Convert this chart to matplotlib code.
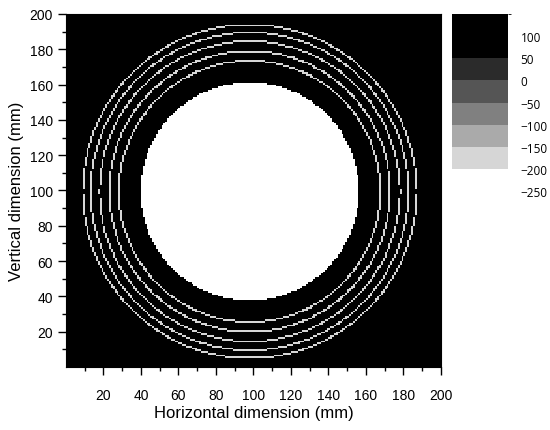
import matplotlib
matplotlib.use('Agg')
import matplotlib.pyplot as plt
import numpy as np
from matplotlib.colors import ListedColormap, BoundaryNorm

plt.rcParams['font.family'] = ['Liberation Sans', 'DejaVu Sans']

# contour levels and their greys (Origin style colour scale)
levels = [-250, -200, -150, -100, -50, 0, 50, 100, 150]
level_colors = ['#ffffff', '#d6d6d6', '#aaaaaa', '#808080', '#555555', '#2b2b2b', '#000000', '#000000']
cbar_ticks = [-250, -200, -150, -100, -50, 0, 50, 100]

# 200 x 200 mm grid, 1 mm cells
grid_x = np.arange(0.5, 200, 1.0)
grid_y = np.arange(0.5, 200, 1.0)
center_x, center_y = 98.0, 99.5
hole_radius = 61.8
ring_radius = [74.0, 79.5, 85.0, 90.0, 94.5]
ring_width = 0.5
x_stretch = 1.062   # source cells are a bit wider than tall
value_background = 120
value_hole = -230
value_ring = -180

X, Y = np.meshgrid(grid_x, grid_y)
r = np.sqrt(((X - center_x) * x_stretch) ** 2 + (Y - center_y) ** 2)
Z = np.full(X.shape, float(value_background))
Z[r < hole_radius] = value_hole
for R in ring_radius:
    Z[np.abs(r - R) < ring_width] = value_ring

cmap = ListedColormap(level_colors)
norm = BoundaryNorm(levels, cmap.N)

fig = plt.figure(figsize=(5.5, 4.31), dpi=100)
ax = fig.add_axes([0.12, 0.1462, 0.6818, 0.819])
im = ax.imshow(Z, origin='lower', extent=[0, 200, 0, 200], aspect='auto',
               interpolation='nearest', cmap=cmap, norm=norm)

ax.set_xlim(0, 200)
ax.set_ylim(0, 200)
ax.set_xticks(np.arange(20, 201, 20))
ax.set_yticks(np.arange(20, 201, 20))
ax.set_xticks(np.arange(10, 200, 20), minor=True)
ax.set_yticks(np.arange(10, 200, 20), minor=True)
ax.tick_params(which='major', direction='out', length=6, width=1, labelsize=10)
ax.tick_params(which='minor', direction='out', length=3, width=1)
ax.tick_params(axis='x', which='major', pad=9)
ax.set_xlabel('Horizontal dimension (mm)', fontsize=12, labelpad=2)
ax.set_ylabel('Vertical dimension (mm)', fontsize=12, labelpad=4)

cax = fig.add_axes([0.8218, 0.5545, 0.1018, 0.4107])
cb = fig.colorbar(im, cax=cax, ticks=cbar_ticks)
cb.outline.set_visible(False)
cax.tick_params(length=0, pad=9, labelsize=8.5)
for t in cax.get_yticklabels():
    t.set_family(['Open Sans', 'DejaVu Sans'])

fig.savefig('out.png', dpi=100)
